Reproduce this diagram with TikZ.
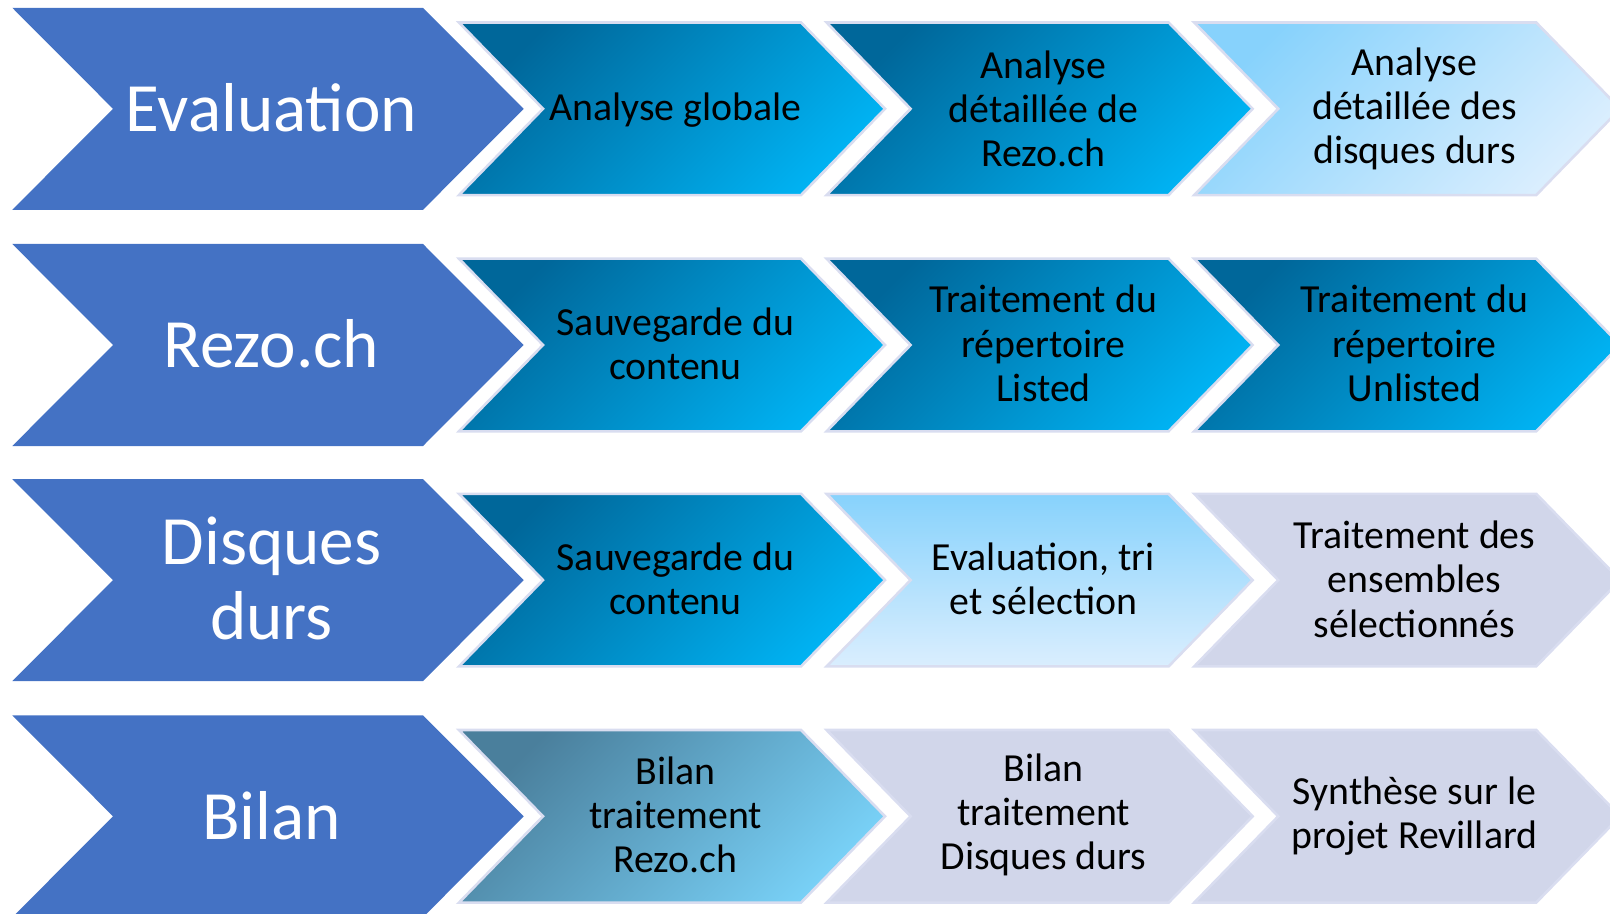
\documentclass[tikz,border=0pt]{standalone}
\usepackage{fontspec}
\setmainfont{Carlito}
\definecolor{bigblue}{HTML}{4472C4}
\definecolor{darkA}{HTML}{00679A}
\definecolor{darkB}{HTML}{00B2F2}
\definecolor{lightA}{HTML}{87D2FC}
\definecolor{lightB}{HTML}{DAEEFE}
\definecolor{tealA}{HTML}{4A7F9C}
\definecolor{tealB}{HTML}{78D0F6}
\definecolor{lav}{HTML}{D1D6EA}
\definecolor{lavline}{HTML}{D9DDF0}
\newcommand{\chevpath}[6]{%
  \path[#6] ({#1},{#2-#3}) -- ({#1+#5},{#2-#3}) -- ({#1+#5+#4},{#2})
    -- ({#1+#5},{#2+#3}) -- ({#1},{#2+#3}) -- ({#1+#4},{#2}) -- cycle;}
\newcommand{\bigchev}[1]{\chevpath{12.3}{#1}{101}{100.7}{410.7}{fill=bigblue}}
\newcommand{\smallchev}[3]{\chevpath{#1}{#2}{86.3}{84}{342}{draw=lavline,line width=1.3pt,#3}}
\begin{document}
\begin{tikzpicture}[x=0.5pt,y=-0.5pt,
  darkfill/.style={top color=darkA,bottom color=darkB,shading angle=45},
  lightdiag/.style={top color=lightA,bottom color=lightB,shading angle=45},
  lightvert/.style={top color=lightA,bottom color=lightB},
  tealfill/.style={top color=tealA,bottom color=tealB,shading angle=45},
  lavfill/.style={fill=lav},
  bigtext/.style={text=white,align=center,font=\fontsize{34.6}{37.5}\selectfont},
  smalltext/.style={text=black,align=center,font=\fontsize{19.9}{22.2}\selectfont}]
\useasboundingbox (0,0) rectangle (1610,914);
% row 1
\bigchev{108.8}
\smallchev{459}{108.8}{darkfill}
\smallchev{826.6}{108.8}{darkfill}
\smallchev{1194.2}{108.8}{lightdiag}
\node[bigtext] (evaluation) at (271.5,107.8) {Evaluation};
\node[smalltext] (r1a) at (675.5,110.3) {Analyse globale};
\node[smalltext] (r1b) at (1043.5,108.8) {Analyse\\détaillée de\\Rezo.ch};
\node[smalltext] (r1c) at (1414.5,108.8) {Analyse\\détaillée des\\disques durs};
% row 2
\bigchev{345.0}
\smallchev{459}{345.0}{darkfill}
\smallchev{826.6}{345.0}{darkfill}
\smallchev{1194.2}{345.0}{darkfill}
\node[bigtext] (rezo) at (271.5,344.0) {Rezo.ch};
\node[smalltext] (r2a) at (675.5,344.0) {Sauvegarde du\\contenu};
\node[smalltext] (r2b) at (1043.5,343.5) {Traitement du\\répertoire\\Listed};
\node[smalltext] (r2c) at (1414.5,343.5) {Traitement du\\répertoire\\Unlisted};
% row 3
\bigchev{580.1}
\smallchev{459}{580.1}{darkfill}
\smallchev{826.6}{580.1}{lightvert}
\smallchev{1194.2}{580.1}{lavfill}
\node[bigtext] (disques) at (271.5,578.6) {Disques\\durs};
\node[smalltext] (r3a) at (675.5,579.1) {Sauvegarde du\\contenu};
\node[smalltext] (r3b) at (1043.5,579.1) {Evaluation, tri\\et sélection};
\node[smalltext] (r3c) at (1414.5,579.1) {Traitement des\\ensembles\\sélectionnés};
% row 4
\bigchev{816.3}
\smallchev{459}{816.3}{tealfill}
\smallchev{826.6}{816.3}{lavfill}
\smallchev{1194.2}{816.3}{lavfill}
\node[bigtext] (bilan) at (271.5,815.3) {Bilan};
\node[smalltext] (r4a) at (675.5,814.8) {Bilan\\traitement\\Rezo.ch};
\node[smalltext] (r4b) at (1043.5,814.8) {Bilan\\traitement\\Disques durs};
\node[smalltext] (r4c) at (1414.5,815.8) {Synthèse sur le\\projet Revillard};
\end{tikzpicture}
\end{document}
